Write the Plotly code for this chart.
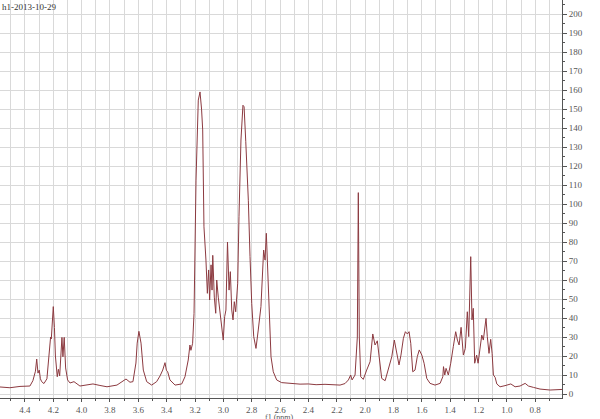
import plotly.graph_objects as go

# chemical shift (ppm)
ppm = [4.576, 4.506, 4.435, 4.365, 4.344, 4.334, 4.326, 4.317, 4.308, 4.299,
       4.291, 4.282, 4.266, 4.245, 4.231, 4.219, 4.214, 4.200, 4.192, 4.185,
       4.172, 4.164, 4.155, 4.139, 4.132, 4.123, 4.113, 4.099, 4.082, 4.054,
       4.012, 3.970, 3.920, 3.871, 3.821, 3.751, 3.716, 3.687, 3.659, 3.638,
       3.617, 3.608, 3.596, 3.581, 3.565, 3.541, 3.506, 3.471, 3.447, 3.428,
       3.412, 3.402, 3.393, 3.377, 3.341, 3.294, 3.271, 3.248, 3.236, 3.229,
       3.217, 3.207, 3.193, 3.177, 3.165, 3.154, 3.146, 3.137, 3.123, 3.113,
       3.104, 3.097, 3.087, 3.080, 3.075, 3.064, 3.054, 3.047, 3.036, 3.024,
       3.017, 3.001, 2.991, 2.982, 2.971, 2.960, 2.951, 2.941, 2.932, 2.923,
       2.913, 2.899, 2.890, 2.876, 2.862, 2.854, 2.842, 2.833, 2.824, 2.812,
       2.800, 2.786, 2.770, 2.754, 2.735, 2.716, 2.706, 2.697, 2.687, 2.676,
       2.664, 2.648, 2.624, 2.589, 2.518, 2.459, 2.400, 2.346, 2.283, 2.212,
       2.177, 2.142, 2.118, 2.102, 2.092, 2.071, 2.055, 2.048, 2.041, 2.031,
       2.013, 1.989, 1.965, 1.946, 1.930, 1.914, 1.900, 1.883, 1.859, 1.836,
       1.812, 1.794, 1.777, 1.761, 1.747, 1.730, 1.716, 1.702, 1.690, 1.678,
       1.664, 1.648, 1.632, 1.618, 1.600, 1.584, 1.565, 1.542, 1.507, 1.471,
       1.452, 1.447, 1.438, 1.429, 1.413, 1.396, 1.378, 1.361, 1.349, 1.337,
       1.323, 1.307, 1.293, 1.279, 1.269, 1.255, 1.246, 1.237, 1.227, 1.213,
       1.203, 1.189, 1.177, 1.166, 1.147, 1.138, 1.126, 1.114, 1.104, 1.095,
       1.083, 1.071, 1.048, 1.013, 0.972, 0.942, 0.907, 0.871, 0.848, 0.813,
       0.766, 0.695, 0.637, 0.611]

# intensity
intensity = [3.7, 3.3, 4.0, 4.2, 7.0, 10.0, 12.0, 18.4, 11.0, 12.6,
             8.0, 6.5, 5.5, 8.0, 18.0, 30.0, 29.0, 46.0, 35.0, 20.0,
             9.1, 13.0, 9.5, 29.8, 19.6, 29.8, 13.7, 7.4, 5.8, 6.5,
             4.2, 4.8, 5.3, 4.5, 3.8, 4.7, 6.5, 7.9, 6.2, 6.5,
             16.3, 26.8, 33.0, 26.8, 12.6, 6.5, 4.7, 6.5, 9.5, 12.6,
             16.5, 12.5, 11.7, 7.4, 4.7, 5.3, 9.1, 17.9, 25.8, 23.0,
             26.7, 42.5, 112.6, 154.7, 159.0, 150.0, 139.0, 88.0, 70.5, 53.0,
             65.3, 49.5, 68.0, 54.7, 73.0, 51.0, 42.5, 60.0, 51.0, 42.5,
             36.3, 28.4, 40.7, 44.2, 80.0, 54.7, 64.4, 44.2, 39.0, 48.6,
             43.3, 58.3, 93.3, 133.7, 152.0, 151.2, 132.8, 119.6, 102.0, 72.3,
             47.7, 30.2, 24.0, 33.7, 46.0, 75.8, 70.5, 84.6, 62.6, 37.2,
             19.6, 11.7, 7.4, 6.0, 5.6, 5.2, 5.3, 4.9, 5.1, 5.0,
             4.7, 5.5, 7.4, 10.0, 7.4, 10.0, 30.0, 106.0, 30.0, 9.1,
             7.7, 12.6, 17.0, 31.6, 25.8, 28.0, 17.9, 8.2, 7.0, 12.6,
             19.6, 28.4, 22.3, 15.3, 20.5, 29.3, 32.8, 31.6, 32.8, 26.7,
             11.7, 12.6, 19.6, 23.2, 20.5, 16.2, 8.2, 5.6, 4.7, 5.6,
             9.1, 14.4, 10.0, 13.5, 10.0, 16.2, 24.9, 32.8, 28.4, 25.8,
             35.1, 20.5, 24.0, 43.3, 30.2, 72.3, 39.0, 45.1, 16.2, 20.5,
             16.2, 23.2, 31.0, 28.4, 39.8, 30.2, 21.4, 28.8, 21.4, 10.0,
             8.8, 5.3, 3.8, 4.4, 5.3, 3.8, 4.2, 5.6, 4.2, 3.5,
             2.6, 2.1, 2.5, 2.4]

fig = go.Figure()
fig.add_trace(go.Scatter(x=ppm, y=intensity, mode="lines",
                         line=dict(color="#8c3a40", width=1), showlegend=False))

tickfont = dict(family="Liberation Serif", size=9, color="#555555")
fig.update_layout(
    width=600, height=419,
    margin=dict(l=0, r=38, t=0, b=21),
    paper_bgcolor="white", plot_bgcolor="white",
    xaxis=dict(range=[4.576, 0.611], dtick=0.2, tick0=0, tickformat=".1f",
               showgrid=True, gridcolor="#d9d9d9", gridwidth=1,
               ticks="outside", ticklen=3, tickcolor="#555555",
               showline=True, linecolor="#555555", linewidth=1,
               tickfont=tickfont, zeroline=False,
               minor=dict(dtick=0.1, showgrid=True, gridcolor="#d9d9d9",
                          ticks="outside", ticklen=2, tickcolor="#555555")),
    yaxis=dict(range=[-2.1, 207.4], side="right", dtick=10, tick0=0,
               showgrid=True, gridcolor="#d9d9d9", gridwidth=1,
               ticks="outside", ticklen=4, tickcolor="#555555",
               showline=True, linecolor="#555555", linewidth=1,
               tickfont=tickfont, zeroline=False,
               minor=dict(dtick=5, ticks="outside", ticklen=2,
                          tickcolor="#555555", showgrid=False)),
    annotations=[
        dict(text="h1-2013-10-29", x=0, y=1, xref="paper", yref="paper",
             xanchor="left", yanchor="top", showarrow=False,
             font=dict(family="Liberation Serif", size=9, color="#333333")),
        dict(text="f1 (ppm)", x=0.498, y=-0.05, xref="paper", yref="paper",
             xanchor="center", yanchor="middle", showarrow=False,
             font=dict(family="Liberation Serif", size=8, color="#555555")),
    ],
)

fig.write_html("out.html", config={"displayModeBar": False},
               post_script="document.body.style.margin='0';")
